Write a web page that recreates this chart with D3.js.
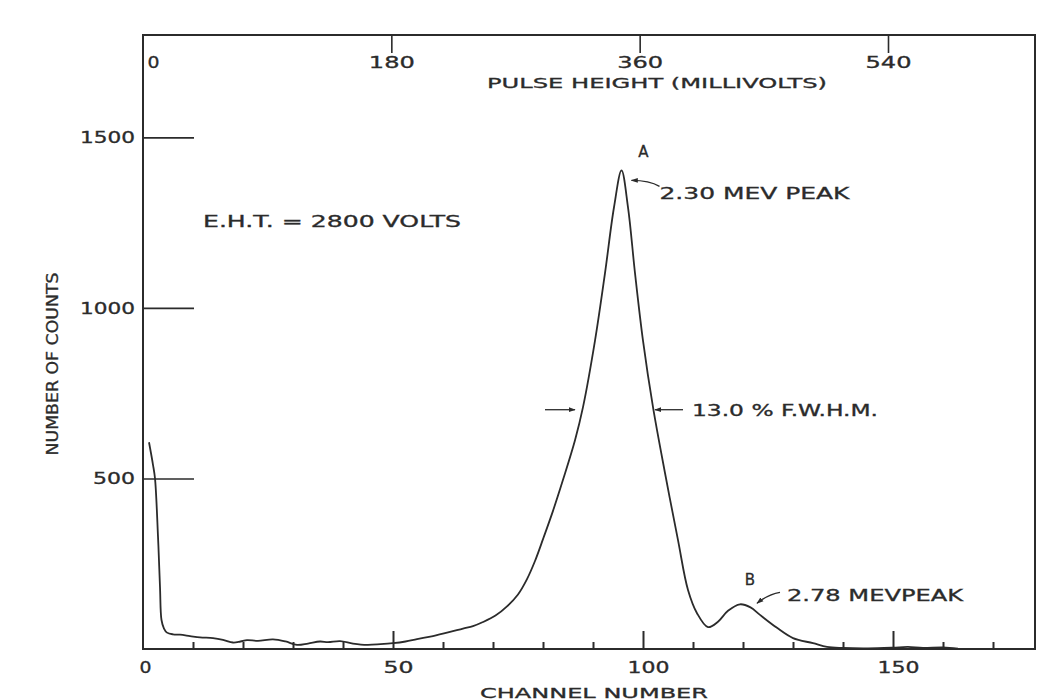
<!DOCTYPE html>
<html>
<head>
<meta charset="utf-8">
<script src="https://cdn.jsdelivr.net/npm/d3@7"></script>
<style>
  html, body { margin: 0; padding: 0; background: #ffffff; }
  svg { display: block; }
  text { font-family: "DejaVu Sans", "Liberation Sans", sans-serif; fill: #2b2b2b; stroke: #2b2b2b; stroke-width: 0.3px; }
</style>
</head>
<body>
<svg id="chart" width="1054" height="700"></svg>
<script>
// ---------- data ----------
const channels = [1.2, 2.0, 2.4, 3.0, 3.4, 3.7, 4.2, 4.8, 6, 7.4, 9.4, 11.4, 14, 16, 18, 19.5, 20.8, 23, 26, 28.5,
  30.8, 33, 35.4, 37, 39.4, 42, 44.8, 47.5, 50, 52.5, 54.8, 58, 61.4, 64, 66, 68, 70.5, 72.8, 75, 76.8,
  78.4, 80, 82, 84, 86.4, 88, 90.4, 92.4, 94.2, 95.7, 97, 98.4, 100, 102, 104.4, 107, 109, 110.8, 113, 115,
  117, 119.4, 121.5, 123.4, 126.8, 130, 134, 136.8, 140, 145, 150, 153, 156, 160, 163];
const counts = [606, 540, 500, 330, 182, 85, 60, 48, 43, 42, 38, 34, 32, 27, 19, 22, 26, 24, 28, 22,
  12, 16, 22, 20, 23, 16, 12, 14, 17, 22, 29, 38, 50, 60, 67, 79, 98, 125, 160, 205,
  258, 322, 405, 496, 612, 709, 904, 1102, 1295, 1403, 1295, 1102, 904, 709, 516, 319, 173, 105, 64, 80,
  112, 131, 122, 100, 62, 32, 17, 6, 3, 2, 4, 6, 3, 5, 1];

const channelMajorTicks = [0, 50, 100, 150];
const channelMinorTicks = [10, 20, 30, 40, 60, 70, 80, 90, 110, 120, 130, 140, 160, 170];
const countTicks = [500, 1000, 1500];
const pulseTicks = [0, 180, 360, 540];

const channelMax = 178.4;
const countMax = 1800;

const peakA = { ch: 95.7, n: 1403, label: "A", text: "2.30 MEV PEAK" };
const peakB = { ch: 119.4, n: 131, label: "B", text: "2.78 MEVPEAK" };
const fwhm = { left: 87.8, right: 101.8, text: "13.0 % F.W.H.M." };
const ehtText = "E.H.T. = 2800 VOLTS";

// ---------- scales ----------
const svg = d3.select("#chart");
const x = d3.scaleLinear().domain([0, channelMax]).range([143, 1035]);
const y = d3.scaleLinear().domain([0, countMax]).range([649, 35]);
const xmv = d3.scaleLinear().domain([0, 540]).range([143, 888]);

const ink = "#2b2b2b";

// helper for lettering-style text
function letter(sel, str, size, len) {
  sel.attr("font-size", size).text(str);
  if (len) sel.attr("textLength", len).attr("lengthAdjust", "spacingAndGlyphs");
  return sel;
}
const digitWidth = { 1: 12, 2: 30, 3: 42, 4: 55 };

// frame
svg.append("rect")
  .attr("x", x(0)).attr("y", y(countMax))
  .attr("width", x(channelMax) - x(0)).attr("height", y(0) - y(countMax))
  .attr("fill", "none").attr("stroke", ink).attr("stroke-width", 2);

// bottom axis ticks
const gBottom = svg.append("g").attr("transform", `translate(0,${y(0)})`);
gBottom.call(d3.axisBottom(x).tickValues(channelMinorTicks).tickSize(-7).tickFormat(""));
gBottom.append("g").call(d3.axisBottom(x).tickValues(channelMajorTicks.filter(d => d > 0)).tickSize(-18).tickFormat(""));
gBottom.selectAll(".domain").remove();
gBottom.selectAll("line").attr("stroke", ink).attr("stroke-width", 2);

// bottom tick labels
const gBL = svg.append("g").attr("transform", `translate(0,${y(0)})`);
gBL.call(d3.axisBottom(x).tickValues(channelMajorTicks).tickSize(0).tickFormat(""));
gBL.selectAll(".domain").remove();
gBL.selectAll(".tick").each(function (d) {
  const s = String(d);
  const t = d3.select(this).append("text").attr("y", 23.5).attr("x", d === 0 ? 2 : 5)
    .attr("text-anchor", "middle");
  letter(t, s, 15, digitWidth[s.length]);
});

letter(svg.append("text").attr("x", 594).attr("y", 698).attr("text-anchor", "middle"),
  "CHANNEL NUMBER", 14, 228);

// left axis ticks
const gLeft = svg.append("g").attr("transform", `translate(${x(0)},0)`);
gLeft.call(d3.axisRight(y).tickValues(countTicks).tickSize(51).tickFormat(""));
gLeft.selectAll(".domain").remove();
gLeft.selectAll("line").attr("stroke", ink).attr("stroke-width", 1.6);
const gLL = svg.append("g").attr("transform", `translate(${x(0)},0)`);
gLL.call(d3.axisLeft(y).tickValues(countTicks).tickSize(0).tickFormat(""));
gLL.selectAll(".domain").remove();
gLL.selectAll(".tick").each(function (d) {
  const s = String(d);
  const t = d3.select(this).append("text").attr("x", -8).attr("y", 5.5).attr("text-anchor", "end");
  letter(t, s, 15, digitWidth[s.length]);
});

svg.append("text")
  .attr("transform", `translate(58,364) rotate(-90)`)
  .attr("text-anchor", "middle").attr("font-size", 15)
  .style("font-family", '"Liberation Sans Narrow", "DejaVu Sans Condensed", sans-serif')
  .attr("textLength", 183).attr("lengthAdjust", "spacingAndGlyphs")
  .text("NUMBER OF COUNTS");

// top axis
const gTop = svg.append("g").attr("transform", `translate(0,${y(countMax)})`);
gTop.call(d3.axisTop(xmv).tickValues(pulseTicks.filter(d => d > 0)).tickSize(-18).tickFormat(""));
gTop.selectAll(".domain").remove();
gTop.selectAll("line").attr("stroke", ink).attr("stroke-width", 1.6);
const gTL = svg.append("g").attr("transform", `translate(0,${y(countMax)})`);
gTL.call(d3.axisTop(xmv).tickValues(pulseTicks).tickSize(0).tickFormat(""));
gTL.selectAll(".domain").remove();
gTL.selectAll(".tick").each(function (d) {
  const s = String(d);
  const t = d3.select(this).append("text").attr("y", 32.5).attr("x", d === 0 ? 10 : 0)
    .attr("text-anchor", "middle");
  letter(t, s, 15, s.length > 1 ? digitWidth[s.length] + 4 : digitWidth[1]);
});

letter(svg.append("text").attr("x", 657).attr("y", 87.5).attr("text-anchor", "middle"),
  "PULSE HEIGHT (MILLIVOLTS)", 14, 340);

// curve
const pts = channels.map((c, i) => [c, counts[i]]);
const line = d3.line().x(d => x(d[0])).y(d => y(d[1])).curve(d3.curveCatmullRom.alpha(0.5));
svg.append("path").datum(pts).attr("d", line)
  .attr("fill", "none").attr("stroke", ink).attr("stroke-width", 1.8)
  .attr("stroke-linejoin", "round");

// arrow marker
const defs = svg.append("defs");
defs.append("marker").attr("id", "ah").attr("viewBox", "0 0 10 10")
  .attr("refX", 9).attr("refY", 5).attr("markerWidth", 7).attr("markerHeight", 7)
  .attr("markerUnits", "userSpaceOnUse").attr("orient", "auto")
  .append("path").attr("d", "M0,1.5 L10,5 L0,8.5 Z").attr("fill", ink);

// E.H.T.
letter(svg.append("text").attr("x", 203).attr("y", 227), ehtText, 15, 258);

// peak A
letter(svg.append("text").attr("x", x(peakA.ch) + 22).attr("y", y(peakA.n) - 13)
  .attr("text-anchor", "middle"), peakA.label, 15);
svg.append("path")
  .attr("d", `M${x(peakA.ch) + 38},${y(peakA.n) + 16} Q${x(peakA.ch) + 28},${y(peakA.n) + 10} ${x(peakA.ch) + 10},${y(peakA.n) + 10}`)
  .attr("fill", "none").attr("stroke", ink).attr("stroke-width", 1.3).attr("marker-end", "url(#ah)");
letter(svg.append("text").attr("x", x(peakA.ch) + 38).attr("y", y(peakA.n) + 29), peakA.text, 15, 190);

// peak B
letter(svg.append("text").attr("x", x(peakB.ch) + 10).attr("y", y(peakB.n) - 19)
  .attr("text-anchor", "middle"), peakB.label, 15);
svg.append("path")
  .attr("d", `M${x(peakB.ch) + 40},${y(peakB.n) - 12} Q${x(peakB.ch) + 28},${y(peakB.n) - 10} ${x(peakB.ch) + 17},${y(peakB.n) - 1}`)
  .attr("fill", "none").attr("stroke", ink).attr("stroke-width", 1.3).attr("marker-end", "url(#ah)");
letter(svg.append("text").attr("x", x(peakB.ch) + 47).attr("y", y(peakB.n) - 3), peakB.text, 15, 176);

// FWHM arrows
const yh = y(peakA.n / 2);
svg.append("line").attr("x1", x(fwhm.left) - 37).attr("x2", x(fwhm.left) - 7)
  .attr("y1", yh).attr("y2", yh).attr("stroke", ink).attr("stroke-width", 1.3).attr("marker-end", "url(#ah)");
svg.append("line").attr("x1", x(fwhm.right) + 31).attr("x2", x(fwhm.right) + 3)
  .attr("y1", yh).attr("y2", yh).attr("stroke", ink).attr("stroke-width", 1.3).attr("marker-end", "url(#ah)");
letter(svg.append("text").attr("x", x(fwhm.right) + 40).attr("y", yh + 6), fwhm.text, 15, 186);
</script>
</body>
</html>
